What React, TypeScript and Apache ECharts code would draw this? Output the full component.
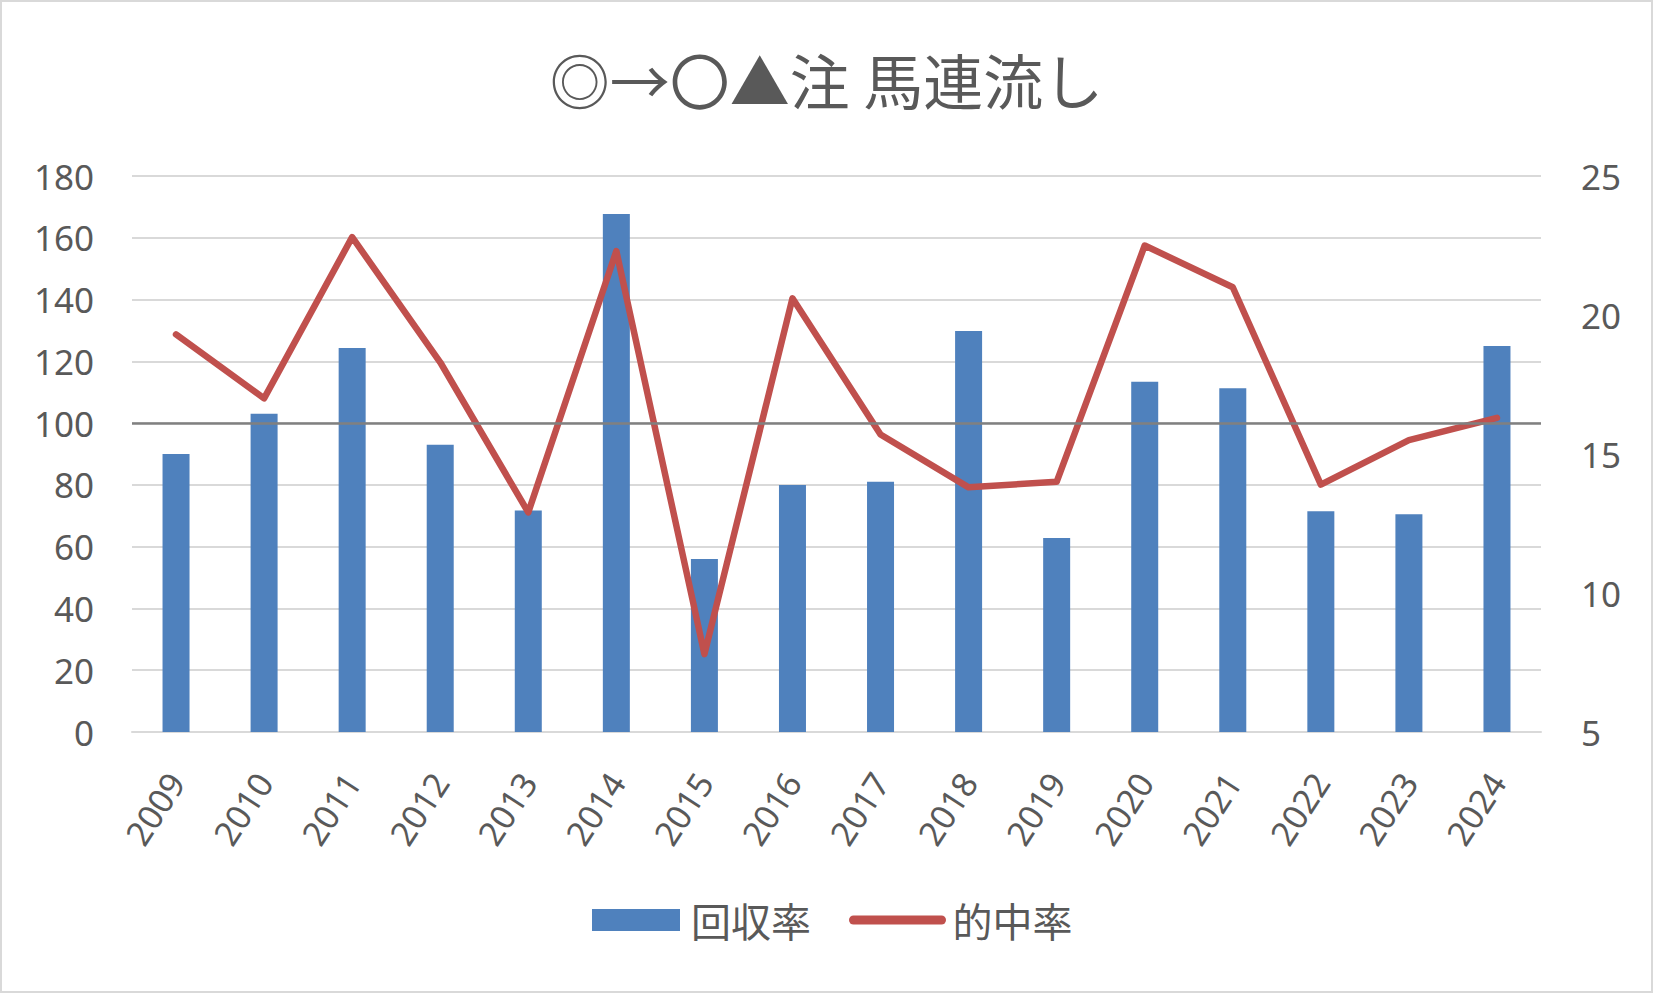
import React, { useEffect, useRef } from "react";
import * as echarts from "echarts";

const titleText = "◎→〇▲注 馬連流し";
const years = ["2009", "2010", "2011", "2012", "2013", "2014", "2015", "2016", "2017", "2018", "2019", "2020", "2021", "2022", "2023", "2024"];
const recoveryRate = [90, 103, 124.3, 93, 71.7, 167.7, 56, 80, 81, 129.8, 62.8, 113.4, 111.3, 71.5, 70.5, 125];
const hitRate = [19.3, 17.0, 22.8, 18.3, 12.9, 22.3, 7.8, 20.6, 15.7, 13.8, 14.0, 22.5, 21.0, 13.9, 15.5, 16.3];
const seriesNames = ["回収率", "的中率"];
const baseLine = 100;

const GREY = "#595959";
const NUM_FONT = "'Noto Sans', 'DejaVu Sans', sans-serif";
const CJK_FONT = "'Noto Sans CJK JP', 'Noto Sans', sans-serif";

export default function App() {
  const ref = useRef<HTMLDivElement>(null);
  useEffect(() => {
    document.body.style.margin = "0";
    if (!ref.current) return;
    const chart = echarts.init(ref.current, undefined, { renderer: "svg" });
    chart.setOption({
      animation: false,
      backgroundColor: "#ffffff",
      title: {
        text: titleText,
        left: "center",
        top: 41,
        textStyle: { fontFamily: CJK_FONT, fontSize: 60, fontWeight: "normal", color: GREY },
      },
      legend: {
        bottom: 46,
        left: 585,
        itemWidth: 88,
        itemHeight: 22,
        itemGap: 38,
        textStyle: { fontFamily: CJK_FONT, fontSize: 40, color: GREY, padding: [0, 0, 0, 6] },
        data: [
          { name: seriesNames[0], icon: "rect" },
          {
            name: seriesNames[1],
            lineStyle: { width: 9, cap: "round", color: "#c0504d" },
            itemStyle: { opacity: 0 },
          },
        ],
      },
      grid: { left: 130, right: 110, top: 174, bottom: 259, containLabel: false },
      xAxis: {
        type: "category",
        data: years,
        axisTick: { show: false },
        axisLine: { lineStyle: { color: "#d9d9d9", width: 2 } },
        axisLabel: { rotate: 57, margin: 44, fontFamily: NUM_FONT, fontSize: 34, color: GREY },
      },
      yAxis: [
        {
          type: "value",
          min: 0,
          max: 180,
          interval: 20,
          axisLine: { show: false },
          axisTick: { show: false },
          splitLine: { lineStyle: { color: "#d9d9d9", width: 2 } },
          axisLabel: { margin: 38, fontFamily: NUM_FONT, fontSize: 35, color: GREY },
        },
        {
          type: "value",
          min: 5,
          max: 25,
          interval: 5,
          position: "right",
          axisLine: { show: false },
          axisTick: { show: false },
          splitLine: { show: false },
          axisLabel: { margin: 40, fontFamily: NUM_FONT, fontSize: 35, color: GREY },
        },
      ],
      series: [
        {
          name: seriesNames[0],
          type: "bar",
          data: recoveryRate,
          barWidth: 27,
          itemStyle: { color: "#4f81bd" },
          markLine: {
            silent: true,
            symbol: "none",
            label: { show: false },
            lineStyle: { color: "#808080", width: 2.5, type: "solid" },
            data: [{ yAxis: baseLine }],
          },
          z: 2,
        },
        {
          name: seriesNames[1],
          type: "line",
          yAxisIndex: 1,
          data: hitRate,
          symbol: "none",
          showSymbol: false,
          lineStyle: { color: "#c0504d", width: 6.5, join: "round", cap: "round" },
          itemStyle: { color: "#c0504d" },
          z: 3,
        },
      ],
    });
    return () => chart.dispose();
  }, []);
  return (
    <div
      ref={ref}
      style={{ width: 1653, height: 993, boxSizing: "border-box", border: "2px solid #d9d9d9" }}
    />
  );
}
